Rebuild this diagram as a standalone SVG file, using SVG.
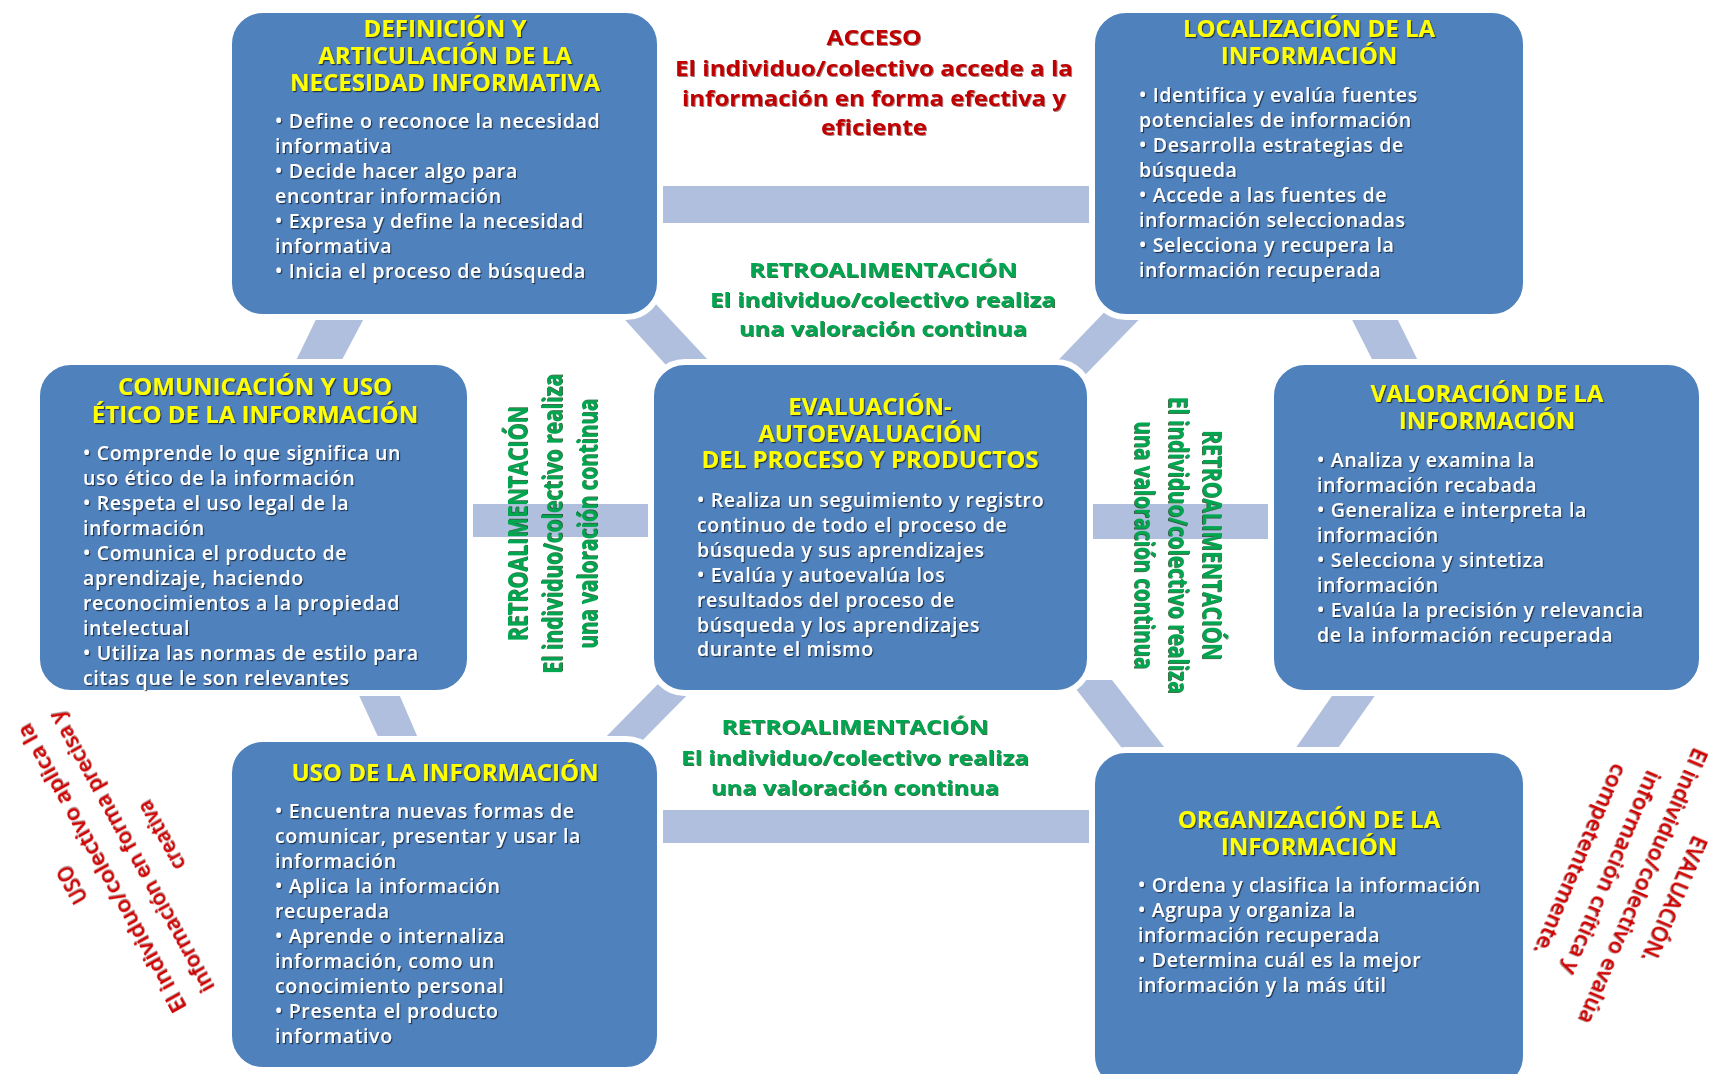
<svg xmlns="http://www.w3.org/2000/svg" width="1715" height="1074" viewBox="0 0 1715 1074">
<defs>
<filter id="sh" x="-5%" y="-20%" width="110%" height="150%"><feDropShadow dx="1.2" dy="1.2" stdDeviation="0.7" flood-color="#000" flood-opacity="0.6"/></filter>
<filter id="shg" x="-5%" y="-20%" width="110%" height="150%"><feDropShadow dx="1" dy="1" stdDeviation="0.6" flood-color="#0b4a1f" flood-opacity="0.8"/></filter>
<filter id="shr" x="-5%" y="-20%" width="110%" height="150%"><feDropShadow dx="1" dy="1" stdDeviation="0.6" flood-color="#4a0000" flood-opacity="0.5"/></filter>
</defs>
<style>
.box{fill:#4F81BD;stroke:#fff;stroke-width:6}
.band{fill:#AFBFDD}
.ttl{font-family:"Open Sans","Liberation Sans",sans-serif;font-weight:700;font-size:24px;fill:#FFFF00;text-anchor:middle;filter:url(#sh)}
.blt{font-family:"Open Sans","Liberation Sans",sans-serif;font-weight:600;font-size:19.5px;letter-spacing:0.65px;fill:#fff;filter:url(#sh)}
.red{font-family:"Open Sans","Liberation Sans",sans-serif;font-weight:700;font-size:21px;fill:#C00000;text-anchor:middle;filter:url(#shr)}
.grn{font-family:"Open Sans","Liberation Sans",sans-serif;font-weight:700;font-size:20px;fill:#00A650;text-anchor:middle;filter:url(#shg)}
.vgr{font-family:"Open Sans","Liberation Sans",sans-serif;font-weight:700;font-size:26px;fill:#00A650;text-anchor:middle;filter:url(#shg)}
.rot{font-family:"Open Sans","Liberation Sans",sans-serif;font-weight:600;font-size:21px;fill:#D00000;text-anchor:middle;filter:url(#shr)}
</style>
<rect width="1715" height="1074" fill="#fff"/>
<g id="connectors">
<rect class="band" x="640" y="186" width="470" height="37"/>
<rect class="band" x="640" y="810" width="470" height="33"/>
<rect class="band" x="455" y="504" width="210" height="33"/>
<rect class="band" x="1075" y="504" width="210" height="35"/>
<polygon class="band" points="323,305 371,305 334,375 289,375"/>
<polygon class="band" points="607,300 652,300 722,375 675,375"/>
<polygon class="band" points="1116,300 1158,300 1085,375 1044,375"/>
<polygon class="band" points="1342,300 1388,300 1425,375 1380,375"/>
<polygon class="band" points="352,680 393,680 424,752 385,752"/>
<polygon class="band" points="662,680 702,680 631,752 591,752"/>
<polygon class="band" points="1069,680 1112,680 1178,765 1135,765"/>
<polygon class="band" points="1343,680 1386,680 1326,765 1284,765"/>
</g>
<g id="n-definicion">
<rect class="box" x="229" y="10" width="431" height="307" rx="34"/>
<text class="ttl" x="445" y="37">DEFINICIÓN Y</text>
<text class="ttl" x="445" y="64">ARTICULACIÓN DE LA</text>
<text class="ttl" x="445" y="91">NECESIDAD INFORMATIVA</text>
<text class="blt" x="275" y="128">• Define o reconoce la necesidad</text>
<text class="blt" x="275" y="153">informativa</text>
<text class="blt" x="275" y="178">• Decide hacer algo para</text>
<text class="blt" x="275" y="203">encontrar información</text>
<text class="blt" x="275" y="228">• Expresa y define la necesidad</text>
<text class="blt" x="275" y="253">informativa</text>
<text class="blt" x="275" y="278">• Inicia el proceso de búsqueda</text>
</g>
<g id="n-localizacion">
<rect class="box" x="1092" y="10" width="434" height="307" rx="34"/>
<text class="ttl" x="1309" y="37">LOCALIZACIÓN DE LA</text>
<text class="ttl" x="1309" y="64">INFORMACIÓN</text>
<text class="blt" x="1139" y="102">• Identifica y evalúa fuentes</text>
<text class="blt" x="1139" y="127">potenciales de información</text>
<text class="blt" x="1139" y="152">• Desarrolla estrategias de</text>
<text class="blt" x="1139" y="177">búsqueda</text>
<text class="blt" x="1139" y="202">• Accede a las fuentes de</text>
<text class="blt" x="1139" y="227">información seleccionadas</text>
<text class="blt" x="1139" y="252">• Selecciona y recupera la</text>
<text class="blt" x="1139" y="277">información recuperada</text>
</g>
<g id="n-comunicacion">
<rect class="box" x="37" y="362" width="433" height="331" rx="34"/>
<text class="ttl" x="255" y="395">COMUNICACIÓN Y USO</text>
<text class="ttl" x="255" y="423">ÉTICO DE LA INFORMACIÓN</text>
<text class="blt" x="83" y="460">• Comprende lo que significa un</text>
<text class="blt" x="83" y="485">uso ético de la información</text>
<text class="blt" x="83" y="510">• Respeta el uso legal de la</text>
<text class="blt" x="83" y="535">información</text>
<text class="blt" x="83" y="560">• Comunica el producto de</text>
<text class="blt" x="83" y="585">aprendizaje, haciendo</text>
<text class="blt" x="83" y="610">reconocimientos a la propiedad</text>
<text class="blt" x="83" y="635">intelectual</text>
<text class="blt" x="83" y="660">• Utiliza las normas de estilo para</text>
<text class="blt" x="83" y="685">citas que le son relevantes</text>
</g>
<g id="n-evaluacion">
<rect class="box" x="651" y="362" width="439" height="331" rx="34"/>
<text class="ttl" x="870" y="415">EVALUACIÓN-</text>
<text class="ttl" x="870" y="442">AUTOEVALUACIÓN</text>
<text class="ttl" x="870" y="468">DEL PROCESO Y PRODUCTOS</text>
<text class="blt" x="697" y="507">• Realiza un seguimiento y registro</text>
<text class="blt" x="697" y="532">continuo de todo el proceso de</text>
<text class="blt" x="697" y="557">búsqueda y sus aprendizajes</text>
<text class="blt" x="697" y="582">• Evalúa y autoevalúa los</text>
<text class="blt" x="697" y="607">resultados del proceso de</text>
<text class="blt" x="697" y="632">búsqueda y los aprendizajes</text>
<text class="blt" x="697" y="656">durante el mismo</text>
</g>
<g id="n-valoracion">
<rect class="box" x="1271" y="362" width="431" height="331" rx="34"/>
<text class="ttl" x="1487" y="402">VALORACIÓN DE LA</text>
<text class="ttl" x="1487" y="429">INFORMACIÓN</text>
<text class="blt" x="1317" y="467">• Analiza y examina la</text>
<text class="blt" x="1317" y="492">información recabada</text>
<text class="blt" x="1317" y="517">• Generaliza e interpreta la</text>
<text class="blt" x="1317" y="542">información</text>
<text class="blt" x="1317" y="567">• Selecciona y sintetiza</text>
<text class="blt" x="1317" y="592">información</text>
<text class="blt" x="1317" y="617">• Evalúa la precisión y relevancia</text>
<text class="blt" x="1317" y="642">de la información recuperada</text>
</g>
<g id="n-uso">
<rect class="box" x="229" y="739" width="431" height="331" rx="34"/>
<text class="ttl" x="445" y="781">USO DE LA INFORMACIÓN</text>
<text class="blt" x="275" y="818">• Encuentra nuevas formas de</text>
<text class="blt" x="275" y="843">comunicar, presentar y usar la</text>
<text class="blt" x="275" y="868">información</text>
<text class="blt" x="275" y="893">• Aplica la información</text>
<text class="blt" x="275" y="918">recuperada</text>
<text class="blt" x="275" y="943">• Aprende o internaliza</text>
<text class="blt" x="275" y="968">información, como un</text>
<text class="blt" x="275" y="993">conocimiento personal</text>
<text class="blt" x="275" y="1018">• Presenta el producto</text>
<text class="blt" x="275" y="1043">informativo</text>
</g>
<g id="n-organizacion">
<rect class="box" x="1092" y="750" width="434" height="340" rx="34"/>
<text class="ttl" x="1309" y="828">ORGANIZACIÓN DE LA</text>
<text class="ttl" x="1309" y="855">INFORMACIÓN</text>
<text class="blt" x="1138" y="892">• Ordena y clasifica la información</text>
<text class="blt" x="1138" y="917">• Agrupa y organiza la</text>
<text class="blt" x="1138" y="942">información recuperada</text>
<text class="blt" x="1138" y="967">• Determina cuál es la mejor</text>
<text class="blt" x="1138" y="992">información y la más útil</text>
</g>
<g id="lbl-acceso">
<text class="red" x="874" y="45" textLength="95" lengthAdjust="spacingAndGlyphs">ACCESO</text>
<text class="red" x="874" y="76" textLength="398" lengthAdjust="spacingAndGlyphs">El individuo/colectivo accede a la</text>
<text class="red" x="874" y="106" textLength="384" lengthAdjust="spacingAndGlyphs">información en forma efectiva y</text>
<text class="red" x="874" y="135" textLength="106" lengthAdjust="spacingAndGlyphs">eficiente</text>
</g>
<g id="lbl-retro-top">
<text class="grn" x="883" y="277" textLength="268" lengthAdjust="spacingAndGlyphs">RETROALIMENTACIÓN</text>
<text class="grn" x="883" y="307" textLength="346" lengthAdjust="spacingAndGlyphs">El individuo/colectivo realiza</text>
<text class="grn" x="883" y="336" textLength="288" lengthAdjust="spacingAndGlyphs">una valoración continua</text>
</g>
<g id="lbl-retro-bottom">
<text class="grn" x="855" y="734" textLength="267" lengthAdjust="spacingAndGlyphs">RETROALIMENTACIÓN</text>
<text class="grn" x="855" y="765" textLength="348" lengthAdjust="spacingAndGlyphs">El individuo/colectivo realiza</text>
<text class="grn" x="855" y="795" textLength="288" lengthAdjust="spacingAndGlyphs">una valoración continua</text>
</g>
<g id="lbl-retro-left" transform="translate(550,524) rotate(-90)">
<text class="vgr" x="0" y="-23" textLength="235" lengthAdjust="spacingAndGlyphs">RETROALIMENTACIÓN</text>
<text class="vgr" x="0" y="12" textLength="300" lengthAdjust="spacingAndGlyphs">El individuo/colectivo realiza</text>
<text class="vgr" x="0" y="47" textLength="250" lengthAdjust="spacingAndGlyphs">una valoración continua</text>
</g>
<g id="lbl-retro-right" transform="translate(1181,545) rotate(90)">
<text class="vgr" x="0" y="-22" textLength="230" lengthAdjust="spacingAndGlyphs">RETROALIMENTACIÓN</text>
<text class="vgr" x="0" y="12" textLength="297" lengthAdjust="spacingAndGlyphs">El individuo/colectivo realiza</text>
<text class="vgr" x="0" y="46" textLength="248" lengthAdjust="spacingAndGlyphs">una valoración continua</text>
</g>
<g id="lbl-uso" transform="translate(117,860) rotate(-119)">
<text class="rot" x="0" y="-44" textLength="40" lengthAdjust="spacingAndGlyphs">USO</text>
<text class="rot" x="0" y="-10" textLength="326" lengthAdjust="spacingAndGlyphs">El individuo/colectivo aplica la</text>
<text class="rot" x="0" y="24" textLength="318" lengthAdjust="spacingAndGlyphs">información en forma precisa y</text>
<text class="rot" x="0" y="58" textLength="76" lengthAdjust="spacingAndGlyphs">creativa</text>
</g>
<g id="lbl-evaluacion" transform="translate(1627,879) rotate(113)">
<text class="rot" x="0" y="-44" textLength="135" lengthAdjust="spacingAndGlyphs">EVALUACIÓN.</text>
<text class="rot" x="0" y="-10" textLength="297" lengthAdjust="spacingAndGlyphs">El individuo/colectivo evalúa</text>
<text class="rot" x="0" y="24" textLength="219" lengthAdjust="spacingAndGlyphs">información crítica y</text>
<text class="rot" x="0" y="58" textLength="205" lengthAdjust="spacingAndGlyphs">competentemente.</text>
</g>
</svg>
